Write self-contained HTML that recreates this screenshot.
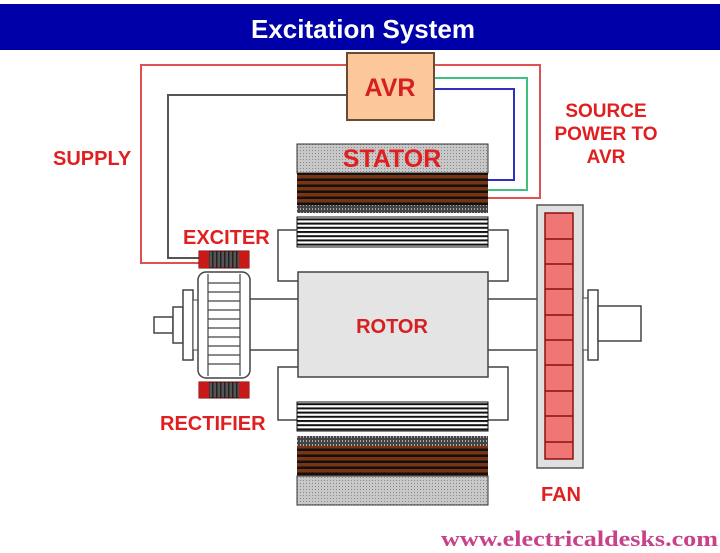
<!DOCTYPE html>
<html><head><meta charset="utf-8"><style>
html,body{margin:0;padding:0;background:#fff;}
svg{display:block;}
text{font-family:"Liberation Sans",sans-serif;font-weight:bold;}
</style></head><body>
<svg width="720" height="553" viewBox="0 0 720 553" xmlns="http://www.w3.org/2000/svg">
<defs>
<pattern id="dots" width="3" height="3" patternUnits="userSpaceOnUse"><rect width="3" height="3" fill="#c8c8c8"/><rect width="1" height="1" fill="#888"/></pattern>
<pattern id="dk" width="3" height="4" patternUnits="userSpaceOnUse"><rect width="3" height="4" fill="#444"/><rect width="1" height="2" fill="#aaa"/></pattern>
<pattern id="brown" width="4" height="6" patternUnits="userSpaceOnUse"><rect width="4" height="6" fill="#111"/><rect y="1" width="4" height="3.5" fill="#7a3412"/></pattern>
<pattern id="lam" width="4" height="4.2" patternUnits="userSpaceOnUse"><rect width="4" height="4.2" fill="#fff"/><rect width="4" height="2" fill="#111"/></pattern>
<pattern id="coil" width="4" height="4" patternUnits="userSpaceOnUse"><rect width="4" height="4" fill="#555"/><rect width="1.5" height="4" fill="#222"/></pattern>
</defs>
<rect x="0" y="4" width="720" height="46" fill="#0000a8"/>
<text x="363" y="38" font-size="26" fill="#fff" text-anchor="middle">Excitation System</text>

<polyline points="347,65 141,65 141,263 200,263" fill="none" stroke="#e05050" stroke-width="2"/>
<polyline points="347,95 168,95 168,258 200,258" fill="none" stroke="#555" stroke-width="2"/>
<polyline points="434,65 540,65 540,198 488,198" fill="none" stroke="#e05050" stroke-width="2"/>
<polyline points="434,78 527,78 527,190 488,190" fill="none" stroke="#40c080" stroke-width="2"/>
<polyline points="434,89 514,89 514,180 488,180" fill="none" stroke="#3030c0" stroke-width="2"/>

<rect x="347" y="53" width="87" height="67" fill="#fcc89b" stroke="#6a4a30" stroke-width="2"/>
<text x="390" y="96" font-size="25" fill="#d42020" text-anchor="middle">AVR</text>

<rect x="297" y="144" width="191" height="29" fill="url(#dots)" stroke="#333"/>
<rect x="297" y="173" width="191" height="32" fill="url(#brown)"/>
<rect x="297" y="205" width="191" height="8" fill="url(#dk)"/>
<text x="392" y="167" font-size="25" fill="#e02020" text-anchor="middle">STATOR</text>
<rect x="297" y="217" width="191" height="30" fill="url(#lam)" stroke="#111"/>

<polyline points="297,230 278,230 278,281 298,281" fill="none" stroke="#444" stroke-width="1.5"/>
<polyline points="488,230 508,230 508,281 488,281" fill="none" stroke="#444" stroke-width="1.5"/>
<polyline points="298,367 278,367 278,420 297,420" fill="none" stroke="#444" stroke-width="1.5"/>
<polyline points="488,367 508,367 508,420 488,420" fill="none" stroke="#444" stroke-width="1.5"/>

<rect x="298" y="272" width="190" height="105" fill="#e4e4e4" stroke="#444" stroke-width="1.5"/>
<text x="392" y="333" font-size="20" fill="#d42020" text-anchor="middle">ROTOR</text>

<rect x="297" y="402" width="191" height="29" fill="url(#lam)" stroke="#111"/>
<rect x="297" y="436" width="191" height="10" fill="url(#dk)"/>
<rect x="297" y="446" width="191" height="30" fill="url(#brown)"/>
<rect x="297" y="476" width="191" height="29" fill="url(#dots)" stroke="#333"/>

<line x1="250" y1="299" x2="298" y2="299" stroke="#444" stroke-width="1.5"/>
<line x1="250" y1="350" x2="298" y2="350" stroke="#444" stroke-width="1.5"/>
<line x1="488" y1="299" x2="537" y2="299" stroke="#444" stroke-width="1.5"/>
<line x1="488" y1="350" x2="537" y2="350" stroke="#444" stroke-width="1.5"/>

<rect x="154" y="317" width="19" height="16" fill="#fff" stroke="#444" stroke-width="1.5"/>
<rect x="173" y="307" width="10" height="36" fill="#fff" stroke="#444" stroke-width="1.5"/>
<rect x="183" y="290" width="10" height="70" fill="#fff" stroke="#444" stroke-width="1.5"/>
<rect x="193" y="300" width="5" height="50" fill="#fff" stroke="#444" stroke-width="1"/>
<rect x="198" y="272" width="52" height="106" rx="8" fill="#fff" stroke="#444" stroke-width="1.5"/>
<g stroke="#444" stroke-width="1.2">
<line x1="208" y1="274" x2="208" y2="376"/><line x1="240" y1="274" x2="240" y2="376"/>
<line x1="208" y1="283" x2="240" y2="283"/><line x1="208" y1="292" x2="240" y2="292"/><line x1="208" y1="301" x2="240" y2="301"/><line x1="208" y1="310" x2="240" y2="310"/><line x1="208" y1="319" x2="240" y2="319"/><line x1="208" y1="328" x2="240" y2="328"/><line x1="208" y1="337" x2="240" y2="337"/><line x1="208" y1="346" x2="240" y2="346"/><line x1="208" y1="355" x2="240" y2="355"/><line x1="208" y1="364" x2="240" y2="364"/>
</g>
<rect x="199" y="251" width="50" height="17" fill="url(#coil)" stroke="#600" />
<rect x="199" y="251" width="10" height="17" fill="#c81818"/><rect x="239" y="251" width="10" height="17" fill="#c81818"/>
<rect x="199" y="382" width="50" height="16" fill="url(#coil)" stroke="#600"/>
<rect x="199" y="382" width="10" height="16" fill="#c81818"/><rect x="239" y="382" width="10" height="16" fill="#c81818"/>

<rect x="537" y="205" width="46" height="263" fill="#e0e0e0" stroke="#555" stroke-width="1.5"/>
<rect x="545" y="213" width="28" height="246" fill="#f07575" stroke="#8a1010" stroke-width="1.5"/>
<g stroke="#8a1010" stroke-width="1.5">
<line x1="545" y1="239" x2="573" y2="239"/><line x1="545" y1="264" x2="573" y2="264"/><line x1="545" y1="289" x2="573" y2="289"/><line x1="545" y1="315" x2="573" y2="315"/><line x1="545" y1="340" x2="573" y2="340"/><line x1="545" y1="365" x2="573" y2="365"/><line x1="545" y1="391" x2="573" y2="391"/><line x1="545" y1="416" x2="573" y2="416"/><line x1="545" y1="442" x2="573" y2="442"/>
</g>
<rect x="583" y="298" width="5" height="52" fill="#fff" stroke="#444" stroke-width="1"/>
<rect x="588" y="290" width="10" height="70" fill="#fff" stroke="#444" stroke-width="1.5"/>
<rect x="598" y="306" width="43" height="35" fill="#fff" stroke="#444" stroke-width="1.5"/>

<g font-size="20" fill="#e02020">
<text x="53" y="165">SUPPLY</text>
<text x="606" y="117" text-anchor="middle" font-size="19">SOURCE</text>
<text x="606" y="140" text-anchor="middle" font-size="19">POWER TO</text>
<text x="606" y="163" text-anchor="middle" font-size="19">AVR</text>
<text x="183" y="244">EXCITER</text>
<text x="160" y="430">RECTIFIER</text>
<text x="561" y="501" text-anchor="middle">FAN</text>
</g>
<text x="441" y="546" font-size="22" fill="#c8418a" textLength="277" lengthAdjust="spacingAndGlyphs" style="font-family:'Liberation Serif',serif;font-weight:bold">www.electricaldesks.com</text>
</svg>
</body></html>
